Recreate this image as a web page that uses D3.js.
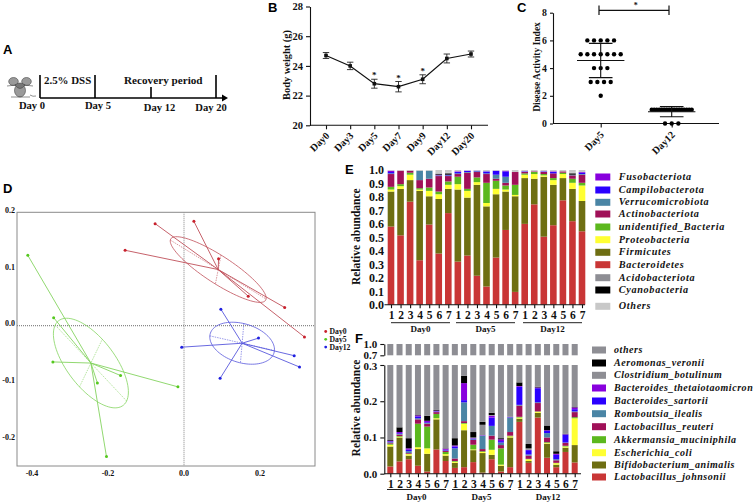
<!DOCTYPE html>
<html><head><meta charset="utf-8">
<script src="https://cdnjs.cloudflare.com/ajax/libs/d3/7.8.5/d3.min.js"></script>
<style>
html,body{margin:0;padding:0;background:#fff}
svg{display:block}
text{font-family:"Liberation Serif",serif;font-weight:bold;fill:#111}
.let{font-family:"Liberation Sans",sans-serif;font-size:13px;fill:#000}
.it{font-style:italic}
</style></head><body><svg id="c" width="756" height="503"></svg>
<script>
// ---------- data ----------
const timelineDays=[{d:0,label:"Day 0"},{d:5,label:"Day 5"},{d:12,label:"Day 12"},{d:20,label:"Day 20"}];
const weightDays=["Day0","Day3","Day5","Day7","Day9","Day12","Day20"];
const weightMean=[24.7,24.0,22.8,22.6,23.1,24.5,24.8];
const weightErr=[0.2,0.25,0.3,0.35,0.3,0.3,0.2];
const weightStar=[0,0,1,1,1,0,0];
const daiGroups=["Day5","Day12"];
const daiDay5=[6,6,6,6,6,5,5,5,5,5,5,5,4,4,4,3,3,3,3,2];
const daiDay12=[1,1,1,1,1,1,1,1,1,1,1,1,1,1,1,1,1,0,0,0];

const pcoaGroups=["Day0","Day5","Day12"];
const pcoaColors=["#c8202c","#55c81e","#2020e0"];
const pcoaLine=["#c0505a","#84d460","#5858dc"];
const day0X=[0.026,0.091,0.169,0.265,0.317,-0.076,-0.155];
const day0Y=[0.184,0.118,0.052,0.032,-0.020,0.180,0.133];
const day5X=[-0.411,-0.343,-0.345,-0.228,-0.167,-0.016,-0.204];
const day5Y=[0.124,0.014,-0.064,-0.101,-0.088,-0.108,-0.231];
const day12X=[0.097,0.196,0.290,0.304,-0.006,0.095];
const day12Y=[0.029,-0.022,-0.053,-0.073,-0.038,-0.093];
const pcoaCenter=[[0.090,0.099],[-0.245,-0.066],[0.153,-0.031]];
const pcoaMajor=[[0.126,-0.052],[0.094,-0.067],[0.085,-0.013]];
const pcoaMinor=[[-0.0074,-0.0256],[0.030,0.042],[-0.0045,-0.0347]];

const sampleNames=["1","2","3","4","5","6","7"];
const dayNames=["Day0","Day5","Day12"];

// E: upper edge of each layer
const eBacteroidetes=[.58,.515,.765,.33,.595,.38,.68,.32,.365,.215,.135,.35,.555,.095,.60,.745,.505,.59,.775,.62,.545];
const eFirmicutes=[.84,.86,.925,.845,.805,.785,.86,.855,.795,.89,.73,.82,.84,.805,.94,.935,.95,.89,.94,.86,.77];
const eProteo=[.855,.88,.965,.855,.845,.82,.89,.895,.845,.91,.755,.86,.855,.815,.965,.97,.96,.925,.97,.905,.885];
const eUnident=[.875,.895,.98,.865,.87,.84,.915,.95,.86,.945,.905,.92,.885,.89,.975,.985,.97,.94,.98,.935,.905];
const eActino=[.97,.995,.995,.925,.935,.955,.955,.97,.98,.985,.97,.935,.905,.985,.985,.99,.985,.975,.99,.96,.965];
const eVerruco=[.975,.995,.995,.995,.995,.96,.96,.975,.985,.99,.975,.965,.95,.985,.985,.99,.985,.975,.99,.965,.97];
const eCampilo=[.985,.995,.995,.995,.995,.96,.965,.985,.995,.995,.99,.995,.99,.985,.99,.99,.99,.985,.99,.965,.98];
const eFuso=[.995,.995,.995,.995,.995,.965,.965,.99,.995,.995,.99,.995,.995,.985,.99,.99,.99,.99,.99,.965,.985];
const eCyano=[.995,.995,.995,.995,.995,.97,.975,.99,.995,.995,.99,.995,.995,.985,.99,.99,.99,.99,.99,.975,.985];
const eAcido=[.995,.995,.995,.995,.995,.975,.98,.99,.995,.995,.99,.995,.995,.985,.99,.99,.99,.99,.99,.98,.985];
const eOthers=eAcido.map(()=>1);
const eLayers=[eBacteroidetes,eFirmicutes,eProteo,eUnident,eActino,eVerruco,eCampilo,eFuso,eCyano,eAcido,eOthers];
const eColors=["#c93636","#6e6e12","#ffff33","#5cb81e","#a01058","#4a85a5","#2a00ff","#8800dd","#000000","#8e8e94","#c8c8c8"];
const eLegend=["Fusobacteriota","Campilobacterota","Verrucomicrobiota","Actinobacteriota","unidentified_Bacteria","Proteobacteria","Firmicutes","Bacteroidetes","Acidobacteriota","Cyanobacteria","Others"];
const eLegendColors=["#8800dd","#2a00ff","#4a85a5","#a01058","#5cb81e","#ffff33","#6e6e12","#c93636","#8e8e94","#000000","#c8c8c8"];

// F: upper edge of each layer
const fJohnsonii=[.02,.034,.04,.022,.006,.067,.035,.016,.018,.032,.003,.04,.006,.018,.143,.03,.155,.044,.018,.06,.031];
const fAnimalis=[.075,.1,.05,.068,.055,.15,.05,.03,.12,.065,.057,.052,.022,.1,.152,.035,.168,.083,.025,.072,.079];
const fColi=[.08,.102,.054,.073,.07,.153,.054,.033,.138,.067,.06,.066,.025,.103,.155,.04,.171,.085,.029,.075,.153];
const fAkker=[.083,.104,.055,.138,.13,.165,.06,.035,.14,.08,.062,.094,.07,.105,.157,.041,.172,.087,.03,.077,.156];
const fReuteri=[.085,.108,.057,.15,.138,.17,.063,.042,.145,.093,.068,.105,.079,.115,.188,.05,.195,.1,.037,.085,.17];
const fRombo=[.087,.11,.062,.153,.14,.171,.064,.07,.197,.095,.104,.132,.086,.155,.19,.053,.197,.112,.04,.086,.172];
const fSartorii=[.089,.112,.066,.158,.142,.172,.066,.075,.203,.097,.105,.155,.09,.156,.24,.065,.236,.118,.052,.108,.178];
const fTheta=[.091,.115,.07,.161,.146,.174,.069,.078,.25,.098,.106,.16,.095,.157,.242,.066,.238,.12,.055,.109,.183];
const fClost=[.091,.115,.07,.161,.146,.174,.069,.078,.25,.1,.135,.162,.095,.157,.242,.07,.238,.12,.055,.109,.183];
const fAero=[.093,.128,.098,.162,.16,.176,.07,.098,.27,.115,.143,.168,.098,.157,.252,.082,.24,.133,.062,.11,.184];
const fOthers=fAero.map(()=>.3);
const fLayers=[fJohnsonii,fAnimalis,fColi,fAkker,fReuteri,fRombo,fSartorii,fTheta,fClost,fAero,fOthers];
const fColors=["#c93636","#6e6e12","#ffff33","#5cb81e","#a01058","#4a85a5","#2a00ff","#8800dd","#8e8e94","#000000","#8e8e94"];
const fLegend=["others","Aeromonas_veronii","Clostridium_botulinum","Bacteroides_thetaiotaomicron","Bacteroides_sartorii","Romboutsia_ilealis","Lactobacillus_reuteri","Akkermansia_muciniphila","Escherichia_coli","Bifidobacterium_animalis","Lactobacillus_johnsonii"];
const fLegendColors=["#8e8e94","#000000","#8e8e94","#8800dd","#2a00ff","#4a85a5","#a01058","#5cb81e","#ffff33","#6e6e12","#c93636"];

// ---------- helpers ----------
const svg=d3.select("#c");
const letter=(t,x,y)=>svg.append("text").attr("class","let").attr("x",x).attr("y",y).text(t);
function styleAxis(g,w,fs){
  g.select(".domain").attr("stroke","#111").attr("stroke-width",w);
  g.selectAll(".tick line").attr("stroke","#111").attr("stroke-width",w);
  g.selectAll("text").style("font-size",fs+"px").attr("fill","#111");
}
function rotLabels(parent,names,x,y0,dy,fs){
  names.forEach(n=>parent.append("text").attr("transform",`translate(${x(n)+4},${y0+dy}) rotate(-45)`)
    .attr("text-anchor","end").attr("font-size",fs).text(n));
}
letter("A",3,54);letter("B",268,11.5);letter("C",517,11.5);letter("D",3,193);letter("E",345,174);letter("F",355,343);

// ---------- A ----------
(function(){
  const x=d3.scaleLinear().domain([0,5,12,20]).range([40,95,151,216]);
  const g=svg.append("g");
  const base=98;
  g.append("line").attr("x1",x(0)).attr("x2",224).attr("y1",base).attr("y2",base).attr("stroke","#000").attr("stroke-width",1.6);
  g.append("path").attr("d",`M222 94.5L228 98L222 101.5Z`).attr("fill","#000");
  timelineDays.forEach(t=>{
    g.append("line").attr("x1",x(t.d)).attr("x2",x(t.d)).attr("y1",base).attr("y2",t.d===12?87:75).attr("stroke","#000").attr("stroke-width",1.6);
  });
  g.selectAll(".l").data(timelineDays).join("text").attr("font-size",10.6)
    .attr("x",(d,i)=>[32,98,159.5,211][i]).attr("y",(d,i)=>i<2?109:111).attr("text-anchor","middle").text(d=>d.label);
  g.append("text").attr("x",44).attr("y",84).attr("font-size",10.9).text("2.5% DSS");
  g.append("text").attr("x",124).attr("y",84).attr("font-size",11.2).text("Recovery period");
  // mouse
  const m=g.append("g").attr("fill","#9a9a9a").attr("stroke","#444").attr("stroke-width",.6);
  m.append("ellipse").attr("cx",13.5).attr("cy",81.5).attr("rx",4.8).attr("ry",4);
  m.append("ellipse").attr("cx",26.5).attr("cy",81.5).attr("rx",4.8).attr("ry",4);
  m.append("ellipse").attr("cx",20).attr("cy",90.5).attr("rx",5.5).attr("ry",6.5);
  m.append("path").attr("d","M15 85Q20 81 25 85Q20 92 15 85Z").attr("fill","#777");
  m.append("path").attr("d","M7 86L16 85M33 86L24 85M11 97H30M30 95Q33 97 36 96").attr("fill","none");
})();

// ---------- B ----------
(function(){
  const x=d3.scalePoint().domain(weightDays).range([326,471]);
  const y=d3.scaleLinear().domain([20,28]).range([125.3,6.5]);
  const g=svg.append("g");
  const ax=g.append("g").attr("transform","translate(310,0)").call(d3.axisLeft(y).tickValues([20,22,24,26,28]).tickSize(4).tickSizeOuter(0).tickFormat(d3.format("d")));
  styleAxis(ax,1.1,10.5);
  const axb=g.append("g").attr("transform","translate(0,125.3)").call(d3.axisBottom(x).tickSize(4).tickSizeOuter(0).tickFormat(""));
  axb.select(".domain").attr("d","M310,0H488");
  styleAxis(axb,1.1,9.2);
  rotLabels(g,weightDays,x,125.3,11,10.2);
  const rows=weightDays.map((d,i)=>({d,m:weightMean[i],e:weightErr[i],s:weightStar[i]}));
  g.append("path").datum(rows).attr("fill","none").attr("stroke","#111").attr("stroke-width",1.2)
    .attr("d",d3.line().x(r=>x(r.d)).y(r=>y(r.m)));
  rows.forEach(r=>{
    const cx=x(r.d);
    g.append("path").attr("stroke","#222").attr("stroke-width",.9).attr("fill","none")
      .attr("d",`M${cx-3.2} ${y(r.m+r.e)}H${cx+3.2}M${cx} ${y(r.m+r.e)}V${y(r.m-r.e)}M${cx-3.2} ${y(r.m-r.e)}H${cx+3.2}`);
    g.append("rect").attr("x",cx-1.8).attr("y",y(r.m)-1.8).attr("width",3.6).attr("height",3.6).attr("fill","#111");
    if(r.s) g.append("text").attr("x",cx).attr("y",y(r.m+r.e)-4).attr("text-anchor","middle").attr("font-size",9).attr("fill","#444").attr("dy","0.35em").text("*");
  });
  g.append("text").attr("transform","translate(290,65) rotate(-90)").attr("text-anchor","middle").attr("font-size",10.4).text("Body weight (g)");
})();

// ---------- C ----------
(function(){
  const x=d3.scalePoint().domain(daiGroups).range([600.7,671.7]);
  const y=d3.scaleLinear().domain([0,8]).range([123.5,12.7]);
  const g=svg.append("g");
  const ax=g.append("g").attr("transform","translate(553,0)").call(d3.axisLeft(y).tickValues([0,2,4,6,8]).tickSize(3).tickSizeOuter(0).tickFormat(d3.format("d")));
  styleAxis(ax,1.1,9.8);
  const axb=g.append("g").attr("transform","translate(0,123.5)").call(d3.axisBottom(x).tickSize(4).tickSizeOuter(0).tickFormat(""));
  axb.select(".domain").attr("d","M553,0H719");
  styleAxis(axb,1.1,8.6);
  rotLabels(g,daiGroups,x,123.5,12,10.2);
  const series=[{k:"Day5",v:daiDay5},{k:"Day12",v:daiDay12}];
  series.forEach(s=>{
    const cx=x(s.k),m=d3.mean(s.v),sd=d3.deviation(s.v);
    d3.rollups(s.v,a=>a.length,v=>v).forEach(([val,n])=>{
      const sp=n>10?2.5:6.67;
      d3.range(n).forEach(i=>{
        g.append("circle").attr("cx",cx+(i-(n-1)/2)*sp).attr("cy",y(val)).attr("r",2.2).attr("fill","#000");
      });
    });
    g.append("path").attr("stroke","#111").attr("fill","none").attr("stroke-width",1.1)
      .attr("d",`M${cx-23.7} ${y(m)}H${cx+23.7}M${cx-11.8} ${y(m+sd)}H${cx+11.8}M${cx-11.8} ${y(m-sd)}H${cx+11.8}M${cx} ${y(m+sd)}V${y(m-sd)}`);
  });
  g.append("path").attr("stroke","#111").attr("fill","none").attr("stroke-width",1.2).attr("d","M599 5.5V15M599 10.3H669M669 5.5V15");
  g.append("text").attr("x",635.7).attr("y",8).attr("text-anchor","middle").attr("font-size",8).attr("fill","#444").text("*");
  g.append("text").attr("transform","translate(540,67) rotate(-90)").attr("text-anchor","middle").attr("font-size",9.5).text("Disease Activity Index");
})();

// ---------- D ----------
(function(){
  const x=d3.scaleLinear().domain([-0.4,0,0.2]).range([32,184,260]);
  const y=d3.scaleLinear().domain([-0.2,0.2]).range([439,212.3]);
  const g=svg.append("g");
  g.append("rect").attr("x",17).attr("y",212.3).attr("width",298).attr("height",253.7).attr("fill","none").attr("stroke","#8a8a8a").attr("stroke-width",1);
  g.append("line").attr("x1",x(0)).attr("x2",x(0)).attr("y1",212.3).attr("y2",466).attr("stroke","#999").attr("stroke-width",1.2).attr("stroke-dasharray","1 1");
  g.append("line").attr("x1",17).attr("x2",315).attr("y1",y(0)).attr("y2",y(0)).attr("stroke","#888").attr("stroke-width",1.1).attr("stroke-dasharray","1 1");
  [-0.2,-0.1,0,0.1,0.2].forEach(v=>g.append("text").attr("x",15).attr("y",y(v)).attr("dy","0.1em").attr("text-anchor","end").attr("font-size",8).text(v.toFixed(1)));
  [-0.4,-0.2,0,0.2].forEach(v=>g.append("text").attr("x",x(v)).attr("y",475.5).attr("text-anchor","middle").attr("font-size",8).text(v.toFixed(1)));
  const xs=[day0X,day5X,day12X],ys=[day0Y,day5Y,day12Y];
  pcoaGroups.forEach((name,i)=>{
    const c=pcoaCenter[i],u=pcoaMajor[i],v=pcoaMinor[i],col=pcoaLine[i];
    const ell=d3.range(0,361,4).map(a=>{const t=a*Math.PI/180;return [x(c[0]+Math.cos(t)*u[0]+Math.sin(t)*v[0]),y(c[1]+Math.cos(t)*u[1]+Math.sin(t)*v[1])];});
    g.append("path").attr("d",d3.line()(ell)+"Z").attr("fill","none").attr("stroke",col).attr("stroke-width",.8);
    [u,v].forEach(w=>g.append("line").attr("x1",x(c[0]-w[0])).attr("y1",y(c[1]-w[1])).attr("x2",x(c[0]+w[0])).attr("y2",y(c[1]+w[1])).attr("stroke",col).attr("stroke-width",.6).attr("stroke-dasharray","1.5 1"));
    xs[i].forEach((px,j)=>{
      g.append("line").attr("x1",x(c[0])).attr("y1",y(c[1])).attr("x2",x(px)).attr("y2",y(ys[i][j])).attr("stroke",col).attr("stroke-width",.9);
      g.append("circle").attr("cx",x(px)).attr("cy",y(ys[i][j])).attr("r",1.5).attr("fill",pcoaColors[i]);
    });
    const ly=331.5+i*7.8;
    g.append("circle").attr("cx",325.7).attr("cy",ly).attr("r",1.4).attr("fill",pcoaColors[i]);
    g.append("text").attr("x",329.5).attr("y",ly+2.5).attr("font-size",7.7).text(name);
  });
})();

// ---------- bars ----------
function groupLabels(g,centers,lineY,textY,fs,half){
  dayNames.forEach((d,i)=>{
    g.append("line").attr("x1",centers[i]-half).attr("x2",centers[i]+half).attr("y1",lineY).attr("y2",lineY).attr("stroke","#222").attr("stroke-width",1);
    g.append("text").attr("x",centers[i]).attr("y",textY).attr("text-anchor","middle").attr("font-size",fs).text(d);
  });
}
const idx=d3.range(21);

// ---------- E ----------
(function(){
  const x=d3.scalePoint().domain(idx).range([391,582]);
  const y=d3.scaleLinear().domain([0,1]).range([304.7,170]);
  const g=svg.append("g");
  eLayers.forEach((tops,l)=>{
    const lower=l?eLayers[l-1]:idx.map(()=>0);
    g.append("g").selectAll("rect").data(idx).join("rect")
      .attr("x",i=>x(i)-3.3).attr("width",6.6)
      .attr("y",i=>y(tops[i])).attr("height",i=>Math.max(0,y(lower[i])-y(tops[i]))).attr("fill",eColors[l]);
  });
  const ax=g.append("g").attr("transform","translate(384.5,0)").call(d3.axisLeft(y).tickValues(d3.range(0,1.01,.1)).tickSize(0).tickFormat(d3.format(".1f")));
  ax.select(".domain").remove();
  ax.selectAll("text").style("font-size","12px").attr("x",-0.5).attr("fill","#111");
  const axb=g.append("g").attr("transform","translate(0,304.7)").call(d3.axisBottom(x).tickSize(3.5).tickSizeOuter(0).tickFormat(i=>sampleNames[i%7]));
  axb.select(".domain").attr("d","M384.5,0H585");
  styleAxis(axb,1.1,11.5);
  axb.selectAll("text").attr("y",6);
  groupLabels(g,[420.5,485.5,552.5],322.7,332,9,29.5);
  g.append("text").attr("transform","translate(359.5,236.7) rotate(-90)").attr("text-anchor","middle").attr("font-size",11.5).text("Relative abundance");
  const ly=[177,190,202.3,214,227,239.7,252.3,264.7,277.7,290,306.3];
  eLegend.forEach((n,i)=>{
    g.append("rect").attr("x",595.3).attr("y",ly[i]-3.5).attr("width",15).attr("height",7).attr("fill",eLegendColors[i]);
    g.append("text").attr("class","it").attr("x",618.7).attr("y",ly[i]+3).attr("font-size",10.2).attr("letter-spacing",.7).text(n);
  });
})();

// ---------- F ----------
(function(){
  const x=d3.scalePoint().domain(idx).range([390.3,574.7]);
  const y=d3.scaleLinear().domain([0,.3]).range([473.7,365]);
  const yTop=d3.scaleLinear().domain([.7,1]).range([355.3,344]);
  const g=svg.append("g");
  fLayers.forEach((tops,l)=>{
    const lower=l?fLayers[l-1]:idx.map(()=>0);
    g.append("g").selectAll("rect").data(idx).join("rect")
      .attr("x",i=>x(i)-3).attr("width",6)
      .attr("y",i=>y(tops[i])).attr("height",i=>Math.max(0,y(lower[i])-y(tops[i]))).attr("fill",fColors[l]);
  });
  g.append("g").selectAll("rect").data(idx).join("rect").attr("x",i=>x(i)-3).attr("width",6)
    .attr("y",yTop(1)).attr("height",yTop(.7)-yTop(1)).attr("fill","#8e8e94");
  const ax=g.append("g").attr("transform","translate(384.3,0)").call(d3.axisLeft(y).tickValues([0,.1,.2,.3]).tickSize(4).tickSizeOuter(0).tickFormat(d3.format(".1f")));
  styleAxis(ax,1.1,11);
  ax.selectAll("text").filter(d=>d===.3).attr("y",.8);
  const ax2=g.append("g").attr("transform","translate(384.3,0)").call(d3.axisLeft(yTop).tickValues([.7,1]).tickSize(4).tickSizeOuter(0).tickFormat(d3.format(".1f")));
  styleAxis(ax2,1.1,11);
  ax2.selectAll("text").filter(d=>d===.7).attr("y",-.8);
  const axb=g.append("g").attr("transform","translate(0,473.7)").call(d3.axisBottom(x).tickSize(3.5).tickSizeOuter(0).tickFormat(i=>sampleNames[i%7]));
  axb.select(".domain").attr("d","M384.3,0H581");
  styleAxis(axb,1.1,11.5);
  axb.selectAll("text").attr("y",6);
  groupLabels(g,[416.5,481.5,548],489.5,499.5,9,29.5);
  g.append("text").attr("transform","translate(360,408) rotate(-90)").attr("text-anchor","middle").attr("font-size",11.5).text("Relative abundance");
  const ly=[350,363,375.3,388,401,413.7,426.7,439.7,452.7,465,477];
  fLegend.forEach((n,i)=>{
    g.append("rect").attr("x",592).attr("y",ly[i]-3.5).attr("width",14).attr("height",7).attr("fill",fLegendColors[i]);
    g.append("text").attr("class","it").attr("x",614).attr("y",ly[i]+3).attr("font-size",10).attr("letter-spacing",.55).text(n);
  });
})();
</script></body></html>
